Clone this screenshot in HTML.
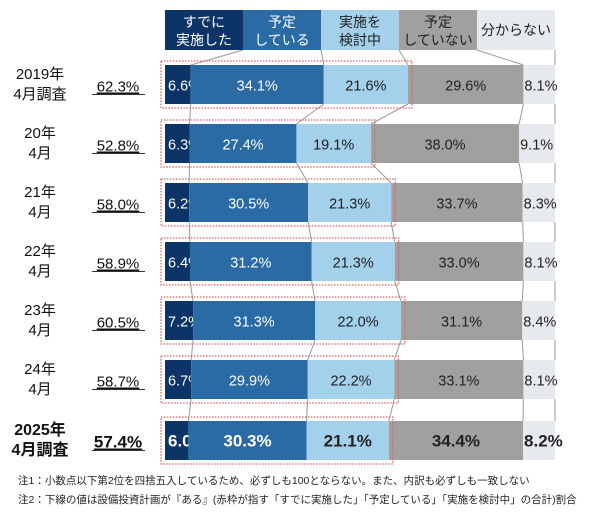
<!DOCTYPE html>
<html><head><meta charset="utf-8"><style>
body{margin:0;background:#fff;font-family:"Liberation Sans","Noto Sans CJK JP",sans-serif;}
#c{position:relative;width:600px;height:517px;overflow:hidden}
svg text{font-family:"Liberation Sans","Noto Sans CJK JP",sans-serif}
</style></head><body><div id="c">
<svg id="s" width="600" height="517"></svg>
</div>
<script>
const rowLabels=[["2019年","4月調査"],["20年","4月"],["21年","4月"],["22年","4月"],["23年","4月"],["24年","4月"],["2025年","4月調査"]];
const totals=["62.3%","52.8%","58.0%","58.9%","60.5%","58.7%","57.4%"];
const done=[6.6,6.3,6.2,6.4,7.2,6.7,6.0];
const planned=[34.1,27.4,30.5,31.2,31.3,29.9,30.3];
const considering=[21.6,19.1,21.3,21.3,22.0,22.2,21.1];
const notPlanned=[29.6,38.0,33.7,33.0,31.1,33.1,34.4];
const unknown=[8.1,9.1,8.3,8.1,8.4,8.1,8.2];
const categories=[["すでに","実施した"],["予定","している"],["実施を","検討中"],["予定","していない"],["分からない"]];
const series=[done,planned,considering,notPlanned,unknown];
const colors=["#0d3466","#2a6aa5","#a3d1ec","#a0a0a0","#e6e9ed"];
const textColors=["#fff","#fff","#222","#222","#222"];
const NS="http://www.w3.org/2000/svg";
const s=document.getElementById('s');
const X0=165,W=390,rowTop=65,pitch=59,bh=39;
const x=v=>X0+v*W/100;
const y=i=>rowTop+i*pitch+(i===6?2:0);
function mk(t,a){const e=document.createElementNS(NS,t);for(const k in a)e.setAttribute(k,a[k]);s.appendChild(e);return e;}
// header
for(let j=0;j<5;j++){
 const r=mk('rect',{x:X0+j*78,y:10,width:78,height:40,fill:colors[j]});
 
 
 const lines=categories[j];
 lines.forEach((l,k)=>{const t=mk('text',{x:X0+j*78+39,y:lines.length==1?35:27+k*18,'font-size':14,'text-anchor':'middle',fill:j<2?'#fff':'#222'});t.textContent=l;
 
 });
}
// connectors
for(let i=0;i<7;i++){
 let cum=0;const bounds=[];
 for(let j=0;j<4;j++){cum+=series[j][i];bounds.push(cum);}
 const prevY=i===0?50:y(i-1)+bh;
 let pc=0;const pb=[];
 if(i>0){for(let j=0;j<4;j++){pc+=series[j][i-1];pb.push(pc);}}
 for(let j=0;j<4;j++){
  const x1=i===0?X0+(j+1)*78:x(pb[j]);
  const l=mk('line',{x1:x1,y1:prevY,x2:x(bounds[j]),y2:y(i),stroke:'#999','stroke-width':1});
  
  
 }
 const l2=mk('line',{x1:555,y1:prevY,x2:555,y2:y(i),stroke:'#999','stroke-width':1});
 
 
}
// bars
for(let i=0;i<7;i++){
 const bold=i===6;let cum=0;
 for(let j=0;j<5;j++){
  const v=series[j][i];
  const r=mk('rect',{x:x(cum),y:y(i),width:x(cum+v)-x(cum),height:bh,fill:colors[j]});
  
  
  let cx=(x(cum)+x(cum+v))/2, anchor='middle';
  if(j===0){cx=x(cum)+3;anchor='start';}
  if(j===1){cx=Math.max(cx,x(cum)+(bold?48:38));}
  if(j===4){cx=x(cum)+1;anchor='start';}
  const t=mk('text',{x:cx,y:y(i)+bh/2+6,'font-size':bold?17:14.5,'font-weight':bold?'bold':'normal','text-anchor':anchor,fill:textColors[j]});
  t.textContent=v.toFixed(1)+'%';
  
  
  cum+=v;
 }
 const box=done[i]+planned[i]+considering[i];
 const b=mk('rect',{x:X0-4,y:y(i)-4,width:x(box)-X0+8,height:bh+8,fill:'none',stroke:'#e46060','stroke-width':1.3,'stroke-dasharray':'1.5 1.5'});
 
 
 rowLabels[i].forEach((l,k)=>{const t=mk('text',{x:40,y:y(i)+14+k*20,'font-size':bold?16:15,'font-weight':bold?'bold':'normal','text-anchor':'middle',fill:'#111'});t.textContent=l;
 
 });
 const tt=mk('text',{x:118,y:y(i)+bh/2+7,'font-size':bold?17:15,'font-weight':bold?'bold':'normal','text-anchor':'middle',fill:'#111','text-decoration':'underline'});
 tt.textContent=totals[i];
 
 
 const ul=mk('line',{x1:92,x2:145,y1:y(i)+bh/2+10,y2:y(i)+bh/2+10,stroke:'#333','stroke-width':1});
 
 
}
const notes=["注1：小数点以下第2位を四捨五入しているため、必ずしも100とならない。また、内訳も必ずしも一致しない","注2：下線の値は設備投資計画が『ある』(赤枠が指す「すでに実施した」「予定している」「実施を検討中」の合計)割合"];
notes.forEach((n,k)=>{const t=mk('text',{x:18,y:484+k*19,'font-size':10.5,fill:'#222'});t.textContent=n;

});
</script></body></html>
